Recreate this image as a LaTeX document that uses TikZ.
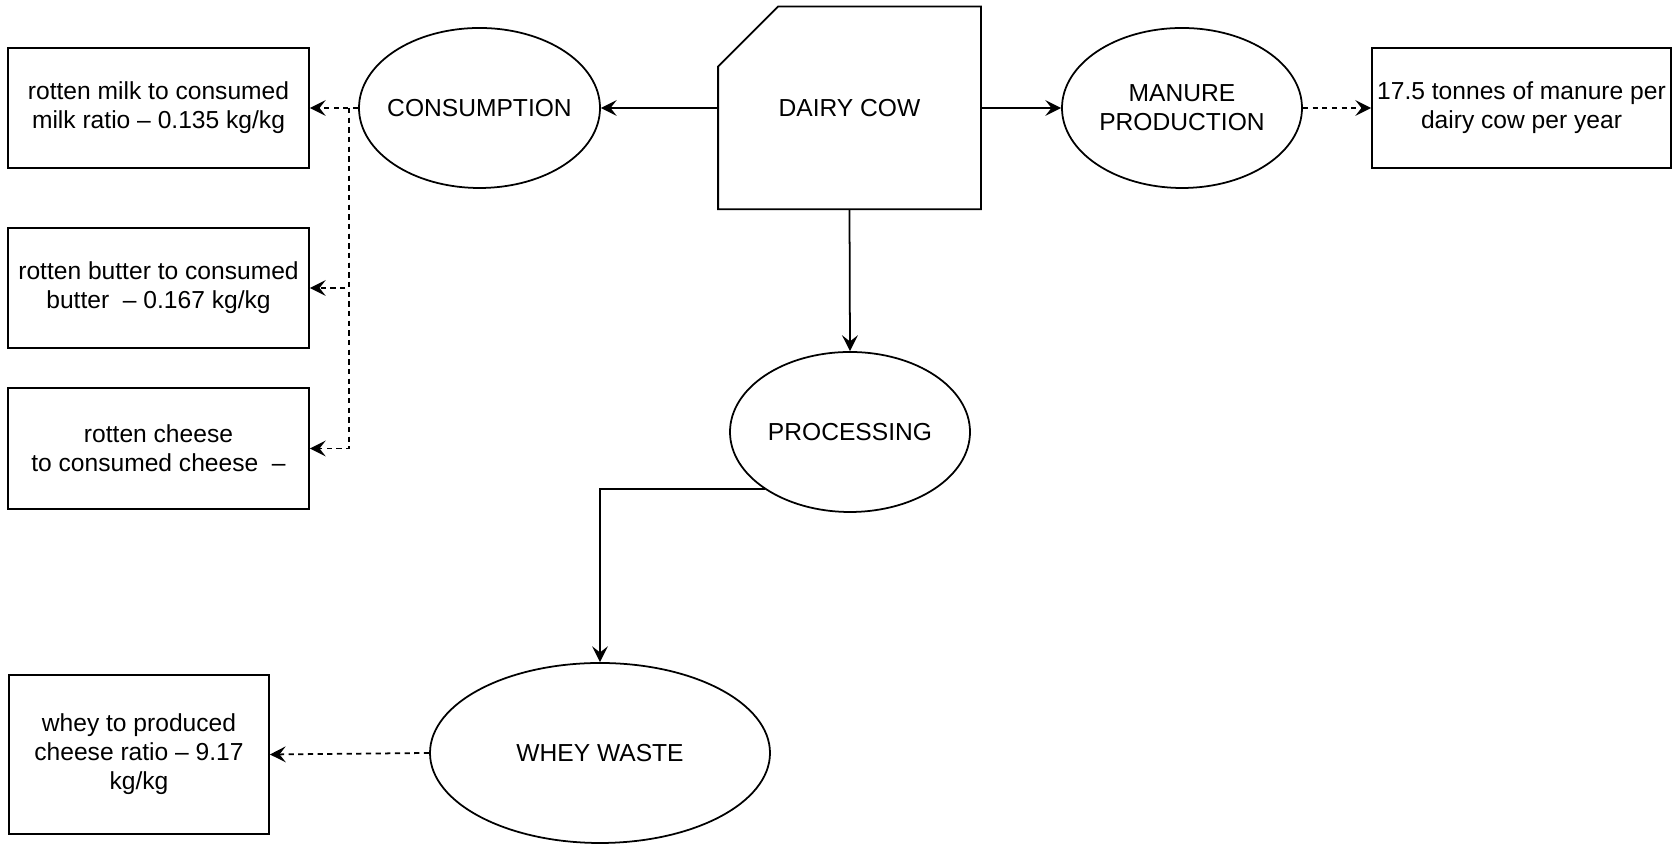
\documentclass[tikz,border=0pt]{standalone}
\usepackage{fontspec}
\setmainfont{Liberation Sans}
\usetikzlibrary{arrows.meta,shapes.geometric,calc}

\begin{document}
\begin{tikzpicture}[
    font=\fontsize{14}{16.5}\selectfont,
    line width=1pt,
    infobox/.style={draw, rectangle, align=center, inner sep=2pt},
    stage/.style={draw, ellipse, align=center, inner sep=0pt, minimum width=4.8cm, minimum height=3.2cm},
    flow/.style={-{Stealth[length=9pt,width=9pt,inset=3.5pt]}},
    ratio/.style={flow, dash pattern=on 3pt off 2.5pt}
]
    \useasboundingbox (0,0) rectangle (33.44,16.9);

    \node[minimum width=5.22cm, minimum height=4.02cm] (cow) at (16.99,14.74) {DAIRY COW};
    \draw ($(cow.north west)+(0,-1.2)$) -- ($(cow.north west)+(1.2,0)$) -- (cow.north east) -- (cow.south east) -- (cow.south west) -- cycle;

    \node[stage, minimum width=4.82cm] (cons) at (9.59,14.74) {\makebox[0pt]{CONSUMPTION}};
    \node[stage] (manure) at (23.64,14.74) {\makebox[0pt]{MANURE}\\\makebox[0pt]{PRODUCTION}};
    \node[stage] (proc) at (17.0,8.26) {\makebox[0pt]{PROCESSING}};
    \node[stage, minimum width=6.8cm, minimum height=3.6cm] (whey) at (12.0,1.84) {WHEY WASTE};

    \node[infobox, minimum width=6.02cm, minimum height=2.4cm] (milk) at (3.17,14.74) {rotten milk to consumed\\milk ratio – 0.135 kg/kg};
    \node[infobox, minimum width=6.02cm, minimum height=2.4cm] (butter) at (3.17,11.14) {rotten butter to consumed\\butter\ \ – 0.167 kg/kg};
    \node[infobox, minimum width=6.02cm, minimum height=2.42cm] (cheese) at (3.17,7.93) {rotten cheese\\to consumed cheese\ \ –};
    \node[infobox, minimum width=5.98cm, minimum height=2.4cm] (mbox) at (30.43,14.74) {17.5 tonnes of manure per\\dairy cow per year};
    \node[infobox, minimum width=5.2cm, minimum height=3.18cm] (wbox) at (2.78,1.81) {whey to produced\\cheese ratio – 9.17\\kg/kg};

    \coordinate (split) at (6.98,14.74);

    \draw[flow] (cow.west) -- (cons.east);
    \draw[flow] (cow.east) -- (manure.west);
    \draw[flow] (cow.south) -- (proc.north);
    \draw[flow] (proc.south west) -| (whey.north);
    \draw[ratio] (manure.east) -- (mbox.west);
    \draw[ratio] (cons.west) -- (milk.east);
    \draw[ratio] (split) |- (butter.east);
    \draw[ratio] (split) |- (cheese.east);
    \draw[ratio] (whey.west) -- (wbox.east);
\end{tikzpicture}
\end{document}
